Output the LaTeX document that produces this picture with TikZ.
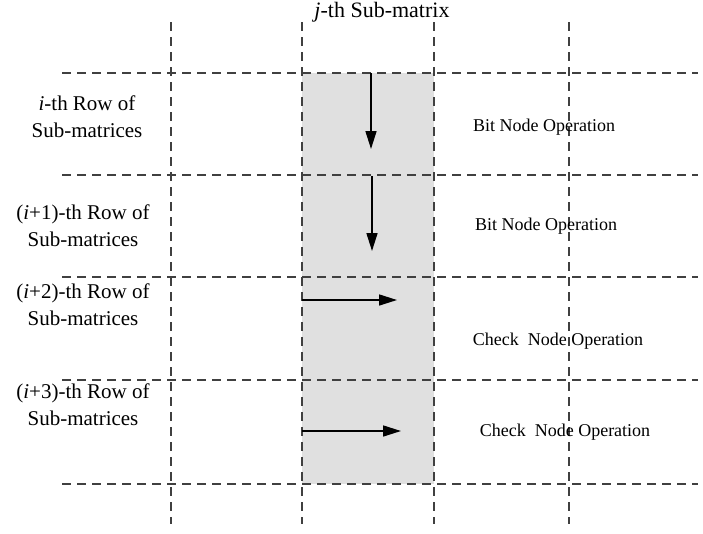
\documentclass[tikz,border=0pt]{standalone}
\usepackage{fontspec}
\setmainfont{Liberation Serif}
\usetikzlibrary{arrows.meta}
\begin{document}
\begin{tikzpicture}[x=1pt,y=-1pt,
  grid/.style={draw=black!75,line width=1.2pt,dash pattern=on 9pt off 6pt},
  flow/.style={draw=black,line width=1.6pt,-{Triangle[length=18pt,width=11pt]}},
  rowlabel/.style={align=center,font=\fontsize{21}{27}\selectfont},
  oplabel/.style={font=\fontsize{18}{20}\selectfont},
  toplabel/.style={font=\fontsize{22}{24}\selectfont}]
\useasboundingbox (0,0) rectangle (703,533);
\fill[black!12] (302,73) rectangle (434,484);
% vertical grid lines
\foreach \x/\n in {171/a,302/b,434/c,569/d}{
  \coordinate (v\n t) at (\x,22);
  \coordinate (v\n b) at (\x,524);
  \draw[grid] (v\n t) -- (v\n b);
}
% horizontal grid lines
\foreach \y/\n in {73/1,175/2,277/3,380/4,484/5}{
  \coordinate (h\n l) at (62,\y);
  \coordinate (h\n r) at (698,\y);
  \draw[grid] (h\n l) -- (h\n r);
}
\node[toplabel] (top) at (382,12) {\textit{j}-th Sub-matrix};
\node[rowlabel] (r1) at (87,117) {\textit{i}-th Row of\\Sub-matrices};
\node[rowlabel] (r2) at (83,226) {(\textit{i}+1)-th Row of\\Sub-matrices};
\node[rowlabel] (r3) at (83,305) {(\textit{i}+2)-th Row of\\Sub-matrices};
\node[rowlabel] (r4) at (83,405) {(\textit{i}+3)-th Row of\\Sub-matrices};
\node[oplabel] (o1) at (544,127) {Bit Node Operation};
\node[oplabel] (o2) at (546,226) {Bit Node Operation};
\node[oplabel] (o3) at (558,341) {Check\ \ Node Operation};
\node[oplabel] (o4) at (565,432) {Check\ \ Node Operation};
% arrows
\coordinate (a1s) at (371,73);  \coordinate (a1e) at (371,149);
\coordinate (a2s) at (372,176); \coordinate (a2e) at (372,251);
\coordinate (a3s) at (302,300); \coordinate (a3e) at (397,300);
\coordinate (a4s) at (302,431); \coordinate (a4e) at (401,431);
\draw[flow] (a1s) -- (a1e);
\draw[flow] (a2s) -- (a2e);
\draw[flow] (a3s) -- (a3e);
\draw[flow] (a4s) -- (a4e);
\end{tikzpicture}
\end{document}
